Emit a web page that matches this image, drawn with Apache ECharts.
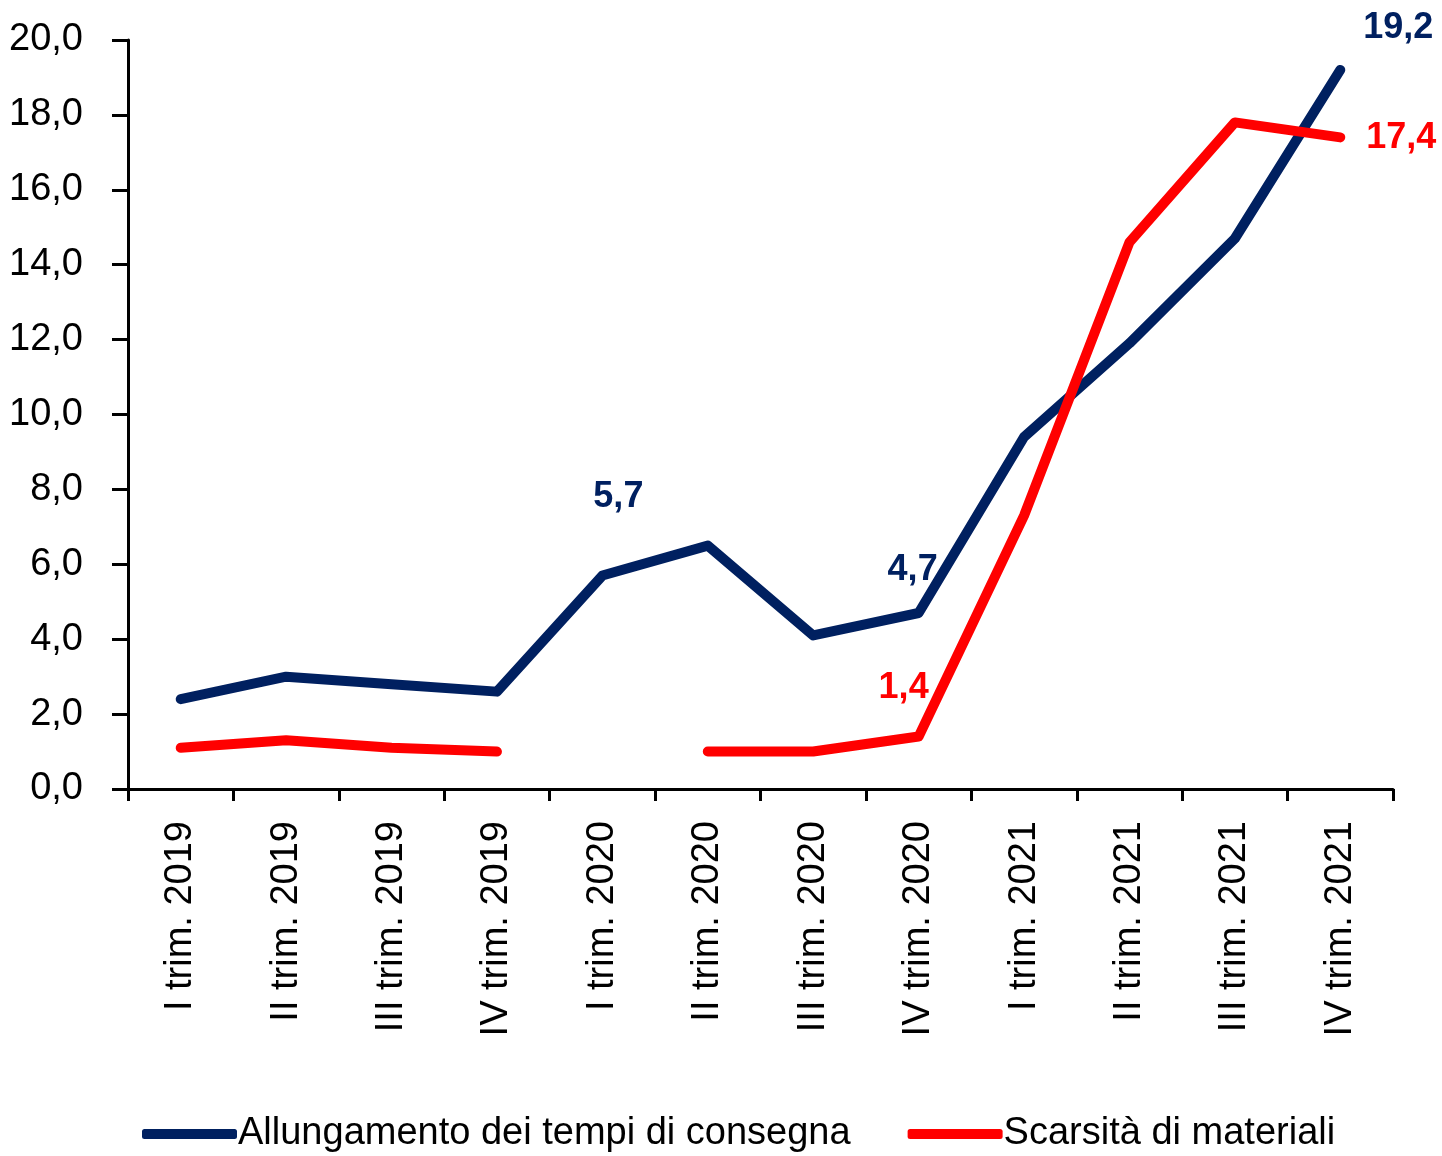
<!DOCTYPE html>
<html>
<head>
<meta charset="utf-8">
<script src="https://cdn.jsdelivr.net/npm/echarts@6/dist/echarts.min.js"></script>
<style>
  html, body { margin: 0; padding: 0; background: #fff; }
  #main { width: 1442px; height: 1156px; }
</style>
</head>
<body>
<div id="main"></div>
<script>
var categories = ['I trim. 2019', 'II trim. 2019', 'III trim. 2019', 'IV trim. 2019',
  'I trim. 2020', 'II trim. 2020', 'III trim. 2020', 'IV trim. 2020',
  'I trim. 2021', 'II trim. 2021', 'III trim. 2021', 'IV trim. 2021'];
var tempiConsegna = [2.4, 3.0, 2.8, 2.6, 5.7, 6.5, 4.1, 4.7, 9.4, 11.9, 14.7, 19.2];
var scarsitaMateriali = [1.1, 1.3, 1.1, 1.0, null, 1.0, 1.0, 1.4, 7.3, 14.6, 17.8, 17.4];
var seriesNames = ['Allungamento dei tempi di consegna', 'Scarsità di materiali'];

var FONT = "'Liberation Sans Narrow', 'Arial Narrow', 'Liberation Sans', Arial, sans-serif";
var BLUE = '#002060';
var RED = '#ff0000';

function fmt(v) {
  return v.toFixed(1).replace('.', ',');
}

// label offsets (from point) for the labelled points
var blueLabels = { 4: [16, -78], 7: [-6, -43], 11: [58, -42] };
var redLabels = { 7: [-15, -48], 11: [61, 1] };

function buildData(values, labels, color) {
  return values.map(function (v, i) {
    var item = { value: v };
    if (labels[i] && v != null) {
      item.label = {
        show: true,
        position: 'inside',
        offset: labels[i],
        formatter: function (p) { return fmt(p.value); },
        color: color,
        fontFamily: FONT,
        fontWeight: 'bold',
        fontSize: 36
      };
    }
    return item;
  });
}

var chart = echarts.init(document.getElementById('main'));

chart.setOption({
  animation: false,
  textStyle: { fontFamily: FONT },
  grid: {
    left: 128,
    right: 49,
    top: 40,
    bottom: 367,
    containLabel: false
  },
  legend: {
    bottom: -2,
    left: 137,
    itemWidth: 95,
    itemHeight: 10,
    itemGap: 57,
    icon: 'roundRect',
    textStyle: {
      fontFamily: FONT,
      fontSize: 38,
      color: '#000',
      padding: [0, 0, 0, -4]
    },
    data: seriesNames
  },
  xAxis: {
    type: 'category',
    data: categories,
    boundaryGap: true,
    axisLine: { lineStyle: { color: '#000', width: 3 } },
    axisTick: { show: true, length: 12, lineStyle: { color: '#000', width: 3 } },
    axisLabel: {
      rotate: 90,
      margin: 32,
      interval: 0,
      color: '#000',
      fontFamily: FONT,
      fontSize: 38
    },
    splitLine: { show: false }
  },
  yAxis: {
    type: 'value',
    min: 0,
    max: 20,
    interval: 2,
    axisLine: { show: true, lineStyle: { color: '#000', width: 3 } },
    axisTick: { show: true, length: 16, lineStyle: { color: '#000', width: 3 } },
    axisLabel: {
      margin: 45,
      color: '#000',
      fontFamily: FONT,
      fontSize: 38,
      formatter: function (v) { return fmt(v); }
    },
    splitLine: { show: false }
  },
  series: [
    {
      name: seriesNames[0],
      type: 'line',
      data: buildData(tempiConsegna, blueLabels, BLUE),
      symbol: 'circle',
      symbolSize: 1,
      itemStyle: { color: BLUE },
      lineStyle: { color: BLUE, width: 10, cap: 'round', join: 'round' },
      z: 2
    },
    {
      name: seriesNames[1],
      type: 'line',
      data: buildData(scarsitaMateriali, redLabels, RED),
      symbol: 'circle',
      symbolSize: 1,
      connectNulls: false,
      itemStyle: { color: RED },
      lineStyle: { color: RED, width: 10, cap: 'round', join: 'round' },
      z: 3
    }
  ]
});
</script>
</body>
</html>
